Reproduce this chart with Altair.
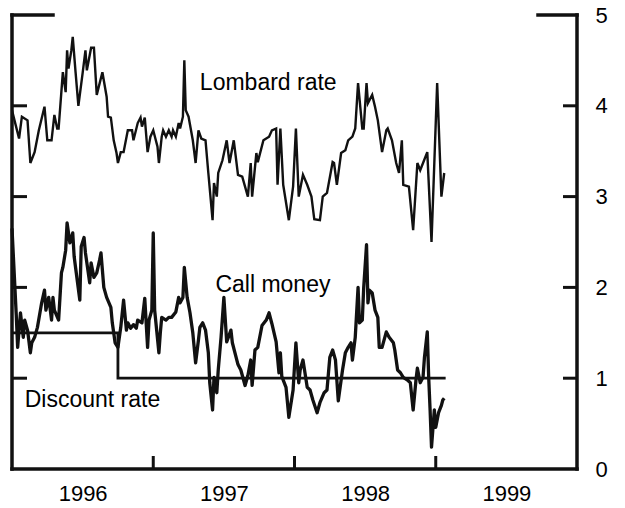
import altair as alt
import pandas as pd

# ---- data ----
lombard_years = [1996.00, 1996.05, 1996.07, 1996.11, 1996.13, 1996.16, 1996.19, 1996.23, 1996.25, 1996.28,
                 1996.30, 1996.32, 1996.33, 1996.36, 1996.38, 1996.39, 1996.40, 1996.42, 1996.43, 1996.45,
                 1996.47, 1996.50, 1996.52, 1996.53, 1996.56, 1996.58, 1996.60, 1996.64, 1996.67, 1996.68,
                 1996.70, 1996.72, 1996.74, 1996.75, 1996.77, 1996.79, 1996.82, 1996.85, 1996.86, 1996.89,
                 1996.91, 1996.92, 1996.94, 1996.96, 1996.98, 1997.00, 1997.03, 1997.04, 1997.06, 1997.07,
                 1997.09, 1997.11, 1997.13, 1997.14, 1997.16, 1997.18, 1997.19, 1997.21, 1997.22, 1997.23,
                 1997.25, 1997.28, 1997.30, 1997.32, 1997.34, 1997.37, 1997.39, 1997.42, 1997.43, 1997.45,
                 1997.46, 1997.49, 1997.52, 1997.54, 1997.57, 1997.60, 1997.63, 1997.65, 1997.67, 1997.69,
                 1997.70, 1997.73, 1997.74, 1997.78, 1997.82, 1997.84, 1997.87, 1997.88, 1997.90, 1997.92,
                 1997.96, 1997.99, 1998.01, 1998.03, 1998.06, 1998.09, 1998.12, 1998.14, 1998.18, 1998.20,
                 1998.23, 1998.27, 1998.28, 1998.30, 1998.33, 1998.36, 1998.38, 1998.41, 1998.43, 1998.45,
                 1998.48, 1998.49, 1998.51, 1998.52, 1998.55, 1998.57, 1998.59, 1998.62, 1998.65, 1998.66,
                 1998.69, 1998.72, 1998.74, 1998.76, 1998.77, 1998.81, 1998.84, 1998.87, 1998.89, 1998.91,
                 1998.94, 1998.97, 1999.01, 1999.04, 1999.06]
lombard_values = [3.95, 3.64, 3.88, 3.84, 3.37, 3.49, 3.73, 3.99, 3.62, 3.62,
                  3.90, 3.75, 3.75, 4.37, 4.15, 4.61, 4.41, 4.61, 4.76, 4.37,
                  4.00, 4.36, 4.61, 4.39, 4.64, 4.64, 4.12, 4.37, 4.10, 3.88,
                  3.87, 3.62, 3.48, 3.37, 3.49, 3.49, 3.73, 3.73, 3.62, 3.81,
                  3.87, 3.77, 3.87, 3.49, 3.66, 3.73, 3.55, 3.37, 3.66, 3.73,
                  3.66, 3.73, 3.66, 3.73, 3.66, 3.81, 3.75, 3.88, 4.50, 3.95,
                  3.88, 3.62, 3.37, 3.73, 3.64, 3.62, 3.26, 2.74, 3.15, 3.00,
                  3.26, 3.40, 3.62, 3.37, 3.62, 3.24, 3.22, 3.11, 3.00, 3.37,
                  3.00, 3.48, 3.38, 3.62, 3.66, 3.73, 3.75, 3.13, 3.75, 3.13,
                  2.74, 3.11, 3.75, 3.00, 3.24, 3.13, 3.00, 2.75, 2.74, 3.00,
                  3.04, 3.38, 3.37, 3.13, 3.48, 3.51, 3.62, 3.66, 3.75, 4.25,
                  3.75, 3.75, 4.25, 4.03, 4.12, 3.99, 3.84, 3.49, 3.73, 3.75,
                  3.62, 3.37, 3.26, 3.62, 3.13, 3.11, 2.63, 3.37, 3.29, 3.37,
                  3.49, 2.50, 4.25, 3.00, 3.26]

call_years = [1996.00, 1996.03, 1996.04, 1996.06, 1996.08, 1996.09, 1996.11, 1996.13, 1996.14, 1996.16,
              1996.18, 1996.21, 1996.23, 1996.24, 1996.26, 1996.28, 1996.29, 1996.30, 1996.33, 1996.35,
              1996.36, 1996.38, 1996.39, 1996.41, 1996.43, 1996.44, 1996.45, 1996.48, 1996.49, 1996.51,
              1996.52, 1996.55, 1996.56, 1996.58, 1996.60, 1996.62, 1996.63, 1996.65, 1996.67, 1996.70,
              1996.71, 1996.73, 1996.75, 1996.77, 1996.79, 1996.81, 1996.82, 1996.84, 1996.86, 1996.88,
              1996.89, 1996.92, 1996.94, 1996.96, 1996.97, 1996.99, 1997.00, 1997.01, 1997.04, 1997.05,
              1997.06, 1997.09, 1997.11, 1997.13, 1997.16, 1997.18, 1997.19, 1997.21, 1997.22, 1997.24,
              1997.26, 1997.28, 1997.30, 1997.32, 1997.33, 1997.35, 1997.37, 1997.39, 1997.40, 1997.42,
              1997.43, 1997.45, 1997.46, 1997.48, 1997.50, 1997.52, 1997.55, 1997.56, 1997.60, 1997.62,
              1997.65, 1997.67, 1997.69, 1997.70, 1997.72, 1997.74, 1997.77, 1997.80, 1997.82, 1997.84,
              1997.87, 1997.89, 1997.90, 1997.91, 1997.94, 1997.96, 1997.99, 1998.01, 1998.03, 1998.04,
              1998.06, 1998.09, 1998.11, 1998.13, 1998.16, 1998.18, 1998.21, 1998.23, 1998.25, 1998.27,
              1998.29, 1998.31, 1998.34, 1998.36, 1998.38, 1998.40, 1998.41, 1998.43, 1998.45, 1998.46,
              1998.48, 1998.49, 1998.51, 1998.52, 1998.53, 1998.55, 1998.57, 1998.59, 1998.60, 1998.62,
              1998.65, 1998.67, 1998.70, 1998.71, 1998.73, 1998.75, 1998.77, 1998.80, 1998.82, 1998.84,
              1998.86, 1998.87, 1998.89, 1998.91, 1998.92, 1998.94, 1998.95, 1998.96, 1998.97, 1998.99,
              1999.00, 1999.02, 1999.04, 1999.05, 1999.06]
call_values = [2.65, 1.70, 1.34, 1.72, 1.45, 1.64, 1.53, 1.28, 1.39, 1.45,
               1.56, 1.83, 1.97, 1.75, 1.89, 1.64, 1.89, 1.75, 1.64, 2.16,
               2.22, 2.41, 2.71, 2.49, 2.60, 2.34, 2.22, 1.86, 2.45, 2.55,
               2.38, 2.05, 2.27, 2.11, 2.16, 2.30, 2.38, 2.00, 1.89, 1.78,
               1.61, 1.39, 1.34, 1.56, 1.86, 1.53, 1.61, 1.55, 1.59, 1.55,
               1.64, 1.61, 1.88, 1.34, 1.64, 1.75, 2.60, 1.75, 1.28, 1.50,
               1.67, 1.64, 1.67, 1.67, 1.73, 1.89, 1.83, 1.89, 2.22, 1.89,
               1.72, 1.50, 1.17, 1.42, 1.56, 1.61, 1.53, 1.28, 0.95, 0.65,
               1.01, 0.84, 1.09, 1.45, 1.89, 1.40, 1.53, 1.39, 1.15, 1.09,
               0.92, 1.03, 1.20, 0.92, 1.31, 1.34, 1.58, 1.64, 1.72, 1.60,
               1.40, 1.06, 1.28, 1.02, 0.90, 0.57, 0.87, 1.39, 0.95, 1.09,
               1.20, 0.90, 0.87, 0.76, 0.62, 0.73, 0.84, 0.87, 1.23, 1.31,
               1.20, 0.75, 1.09, 1.28, 1.34, 1.39, 1.20, 1.45, 2.00, 1.61,
               1.64, 2.00, 2.47, 1.83, 1.97, 1.94, 1.75, 1.67, 1.34, 1.34,
               1.51, 1.45, 1.39, 1.31, 1.09, 1.06, 1.01, 0.98, 0.95, 0.65,
               0.98, 1.11, 0.95, 1.01, 1.23, 1.51, 1.01, 0.65, 0.24, 0.65,
               0.46, 0.62, 0.70, 0.76, 0.78]

discount_years = [1996.00, 1996.75, 1999.07]
discount_values = [1.5, 1.0, 1.0]

label_texts = ["Lombard rate", "Call money", "Discount rate"]
label_x = [1997.33, 1997.44, 1996.09]
label_y = [4.17, 1.95, 0.68]

year_tick_positions = [1997, 1998, 1999]
year_label_positions = [1996.5, 1997.5, 1998.5, 1999.5]
inner_tick_values = [1, 2, 3, 4]
y_axis_values = [0, 1, 2, 3, 4, 5]

# ---- chart ----
W, H = 565, 454
INK = "#111111"
FONT = "Liberation Sans"

xscale = alt.Scale(domain=[1996, 2000], nice=False, zero=False)
yscale = alt.Scale(domain=[0, 5], nice=False, zero=True)

x_axis = alt.Axis(values=year_label_positions, labelExpr="floor(datum.value)", domain=False,
                  ticks=False, grid=False, title=None, labelFontSize=22, labelFont=FONT,
                  labelColor="black", labelPadding=14, labelFlush=False, labelOverlap=False)
y_axis = alt.Axis(orient="right", values=y_axis_values, format="d", domain=False, ticks=False,
                  grid=False, title=None, labelFontSize=22, labelFont=FONT, labelColor="black",
                  labelPadding=18, labelAlign="left")


def X(field):
    return alt.X(field, scale=xscale, axis=x_axis, title=None)


def Y(field):
    return alt.Y(field, scale=yscale, axis=y_axis, title=None)


lombard_df = pd.DataFrame({"year": lombard_years, "value": lombard_values})
call_df = pd.DataFrame({"year": call_years, "value": call_values})
disc_df = pd.DataFrame({"year": discount_years, "value": discount_values})
lab_df = pd.DataFrame({"text": label_texts, "year": label_x, "value": label_y})

lombard = alt.Chart(lombard_df).mark_line(color=INK, strokeWidth=2.4, strokeJoin="miter").encode(
    x=X("year:Q"), y=Y("value:Q"))
call = alt.Chart(call_df).mark_line(color=INK, strokeWidth=3.3, strokeJoin="round").encode(
    x=X("year:Q"), y=Y("value:Q"))
disc = alt.Chart(disc_df).mark_line(color=INK, strokeWidth=2.8, interpolate="step-after").encode(
    x=X("year:Q"), y=Y("value:Q"))
labels = alt.Chart(lab_df).mark_text(align="left", baseline="alphabetic", font=FONT,
                                     fontSize=23, color="black").encode(
    x=X("year:Q"), y=Y("value:Q"), text="text:N")

frame_w = 3.5
left_edge = alt.Chart().mark_rule(color=INK, strokeWidth=frame_w, strokeCap="square").encode(
    x=alt.value(0), y=alt.value(0), y2=alt.value(H))
right_edge = alt.Chart().mark_rule(color=INK, strokeWidth=frame_w, strokeCap="square").encode(
    x=alt.value(W), y=alt.value(0), y2=alt.value(H))
bottom_edge = alt.Chart().mark_rule(color=INK, strokeWidth=frame_w, strokeCap="square").encode(
    y=alt.value(H), x=alt.value(0), x2=alt.value(W))
top_left = alt.Chart().mark_rule(color=INK, strokeWidth=frame_w, strokeCap="square").encode(
    y=alt.value(0), x=alt.value(0), x2=alt.value(41))
top_right = alt.Chart().mark_rule(color=INK, strokeWidth=frame_w, strokeCap="square").encode(
    y=alt.value(0), x=alt.value(W - 39), x2=alt.value(W))

tick_df = pd.DataFrame({"value": inner_tick_values})
left_ticks = alt.Chart(tick_df).mark_rule(color=INK, strokeWidth=3).encode(
    y=Y("value:Q"), x=alt.value(0), x2=alt.value(15))
right_ticks = alt.Chart(tick_df).mark_rule(color=INK, strokeWidth=3).encode(
    y=Y("value:Q"), x=alt.value(W - 14), x2=alt.value(W))
xt_df = pd.DataFrame({"year": year_tick_positions})
bottom_ticks = alt.Chart(xt_df).mark_rule(color=INK, strokeWidth=3).encode(
    x=X("year:Q"), y=alt.value(H - 13), y2=alt.value(H))

chart = alt.layer(
    lombard, call, disc, labels,
    left_edge, right_edge, bottom_edge, top_left, top_right,
    left_ticks, right_ticks, bottom_ticks,
).properties(
    width=W, height=H,
    padding={"left": 4, "top": 7, "right": 36, "bottom": 39},
    autosize=alt.AutoSizeParams(type="none"),
    background="white",
).configure_view(stroke=None)

chart.save("out.html", embed_options={"renderer": "svg", "actions": False})
